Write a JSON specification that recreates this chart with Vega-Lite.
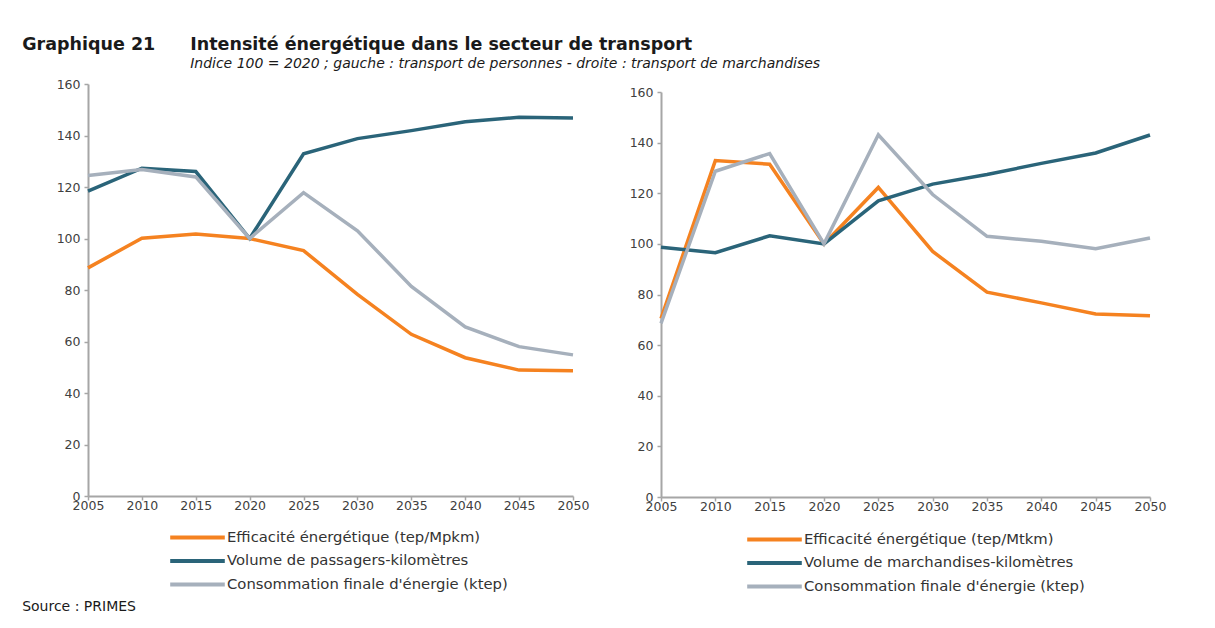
{
  "$schema": "https://vega.github.io/schema/vega-lite/v6.json",
  "background": "white",
  "padding": {"left": 22, "top": 35, "right": 10, "bottom": 5},
  "title": {
    "text": "Graphique 21\u2003\u2003Intensité énergétique dans le secteur de transport",
    "subtitle": "\u200b\u2003\u2003\u2003\u2003\u2003\u2003\u2003\u2003\u2003\u2003\u2003\u2003Indice 100 = 2020 ; gauche : transport de personnes - droite : transport de marchandises",
    "anchor": "start",
    "dx": 0,
    "font": "DejaVu Sans",
    "fontSize": 17.5,
    "fontWeight": "bold",
    "color": "#1a1a1a",
    "subtitleFont": "DejaVu Sans",
    "subtitleFontSize": 14,
    "subtitleFontStyle": "italic",
    "subtitleColor": "#1a1a1a",
    "subtitlePadding": 4,
    "offset": 7
  },
  "datasets": {
    "left": [
      {"year": 2005, "serie": "Efficacité énergétique (tep/Mpkm)", "value": 88.6},
      {"year": 2010, "serie": "Efficacité énergétique (tep/Mpkm)", "value": 100.1},
      {"year": 2015, "serie": "Efficacité énergétique (tep/Mpkm)", "value": 101.7},
      {"year": 2020, "serie": "Efficacité énergétique (tep/Mpkm)", "value": 100},
      {"year": 2025, "serie": "Efficacité énergétique (tep/Mpkm)", "value": 95.3},
      {"year": 2030, "serie": "Efficacité énergétique (tep/Mpkm)", "value": 78.3},
      {"year": 2035, "serie": "Efficacité énergétique (tep/Mpkm)", "value": 62.8},
      {"year": 2040, "serie": "Efficacité énergétique (tep/Mpkm)", "value": 53.7},
      {"year": 2045, "serie": "Efficacité énergétique (tep/Mpkm)", "value": 48.9},
      {"year": 2050, "serie": "Efficacité énergétique (tep/Mpkm)", "value": 48.6},
      {"year": 2005, "serie": "Volume de passagers-kilomètres", "value": 118.4},
      {"year": 2010, "serie": "Volume de passagers-kilomètres", "value": 127.3},
      {"year": 2015, "serie": "Volume de passagers-kilomètres", "value": 126.0},
      {"year": 2020, "serie": "Volume de passagers-kilomètres", "value": 100},
      {"year": 2025, "serie": "Volume de passagers-kilomètres", "value": 132.9},
      {"year": 2030, "serie": "Volume de passagers-kilomètres", "value": 138.8},
      {"year": 2035, "serie": "Volume de passagers-kilomètres", "value": 141.9},
      {"year": 2040, "serie": "Volume de passagers-kilomètres", "value": 145.3},
      {"year": 2045, "serie": "Volume de passagers-kilomètres", "value": 147.1},
      {"year": 2050, "serie": "Volume de passagers-kilomètres", "value": 146.8},
      {"year": 2005, "serie": "Consommation finale d'énergie (ktep)", "value": 124.5},
      {"year": 2010, "serie": "Consommation finale d'énergie (ktep)", "value": 126.8},
      {"year": 2015, "serie": "Consommation finale d'énergie (ktep)", "value": 123.9},
      {"year": 2020, "serie": "Consommation finale d'énergie (ktep)", "value": 100},
      {"year": 2025, "serie": "Consommation finale d'énergie (ktep)", "value": 117.8},
      {"year": 2030, "serie": "Consommation finale d'énergie (ktep)", "value": 103.0},
      {"year": 2035, "serie": "Consommation finale d'énergie (ktep)", "value": 81.4},
      {"year": 2040, "serie": "Consommation finale d'énergie (ktep)", "value": 65.7},
      {"year": 2045, "serie": "Consommation finale d'énergie (ktep)", "value": 58.0},
      {"year": 2050, "serie": "Consommation finale d'énergie (ktep)", "value": 54.8}
    ],
    "right": [
      {"year": 2005, "serie": "Efficacité énergétique (tep/Mtkm)", "value": 70.5},
      {"year": 2010, "serie": "Efficacité énergétique (tep/Mtkm)", "value": 132.9},
      {"year": 2015, "serie": "Efficacité énergétique (tep/Mtkm)", "value": 131.5},
      {"year": 2020, "serie": "Efficacité énergétique (tep/Mtkm)", "value": 100},
      {"year": 2025, "serie": "Efficacité énergétique (tep/Mtkm)", "value": 122.3},
      {"year": 2030, "serie": "Efficacité énergétique (tep/Mtkm)", "value": 97.0},
      {"year": 2035, "serie": "Efficacité énergétique (tep/Mtkm)", "value": 80.9},
      {"year": 2040, "serie": "Efficacité énergétique (tep/Mtkm)", "value": 76.7},
      {"year": 2045, "serie": "Efficacité énergétique (tep/Mtkm)", "value": 72.3},
      {"year": 2050, "serie": "Efficacité énergétique (tep/Mtkm)", "value": 71.6},
      {"year": 2005, "serie": "Volume de marchandises-kilomètres", "value": 98.7},
      {"year": 2010, "serie": "Volume de marchandises-kilomètres", "value": 96.5},
      {"year": 2015, "serie": "Volume de marchandises-kilomètres", "value": 103.2},
      {"year": 2020, "serie": "Volume de marchandises-kilomètres", "value": 100},
      {"year": 2025, "serie": "Volume de marchandises-kilomètres", "value": 117.0},
      {"year": 2030, "serie": "Volume de marchandises-kilomètres", "value": 123.6},
      {"year": 2035, "serie": "Volume de marchandises-kilomètres", "value": 127.4},
      {"year": 2040, "serie": "Volume de marchandises-kilomètres", "value": 131.8},
      {"year": 2045, "serie": "Volume de marchandises-kilomètres", "value": 135.9},
      {"year": 2050, "serie": "Volume de marchandises-kilomètres", "value": 143.0},
      {"year": 2005, "serie": "Consommation finale d'énergie (ktep)", "value": 68.6},
      {"year": 2010, "serie": "Consommation finale d'énergie (ktep)", "value": 128.7},
      {"year": 2015, "serie": "Consommation finale d'énergie (ktep)", "value": 135.7},
      {"year": 2020, "serie": "Consommation finale d'énergie (ktep)", "value": 100},
      {"year": 2025, "serie": "Consommation finale d'énergie (ktep)", "value": 143.1},
      {"year": 2030, "serie": "Consommation finale d'énergie (ktep)", "value": 119.5},
      {"year": 2035, "serie": "Consommation finale d'énergie (ktep)", "value": 103.0},
      {"year": 2040, "serie": "Consommation finale d'énergie (ktep)", "value": 101.0},
      {"year": 2045, "serie": "Consommation finale d'énergie (ktep)", "value": 98.1},
      {"year": 2050, "serie": "Consommation finale d'énergie (ktep)", "value": 102.3}
    ]
  },
  "spacing": 40,
  "hconcat": [
    {
      "width": 485,
      "height": 412,
      "data": {"name": "left"},
      "title": {"text": "Source : PRIMES", "orient": "bottom", "anchor": "start", "dx": -34, "fontSize": 14, "fontWeight": "normal", "font": "DejaVu Sans", "color": "#1a1a1a", "offset": 7},
      "mark": {"type": "line", "strokeWidth": 3.5},
      "encoding": {
        "x": {"field": "year", "type": "quantitative", "scale": {"domain": [2005, 2050], "nice": false, "zero": false}, "axis": {"values": [2005, 2010, 2015, 2020, 2025, 2030, 2035, 2040, 2045, 2050], "format": "d", "title": null}},
        "y": {"field": "value", "type": "quantitative", "scale": {"domain": [0, 160], "nice": false}, "axis": {"values": [0, 20, 40, 60, 80, 100, 120, 140, 160], "title": null}},
        "color": {"field": "serie", "type": "nominal",
          "scale": {"domain": ["Efficacité énergétique (tep/Mpkm)", "Volume de passagers-kilomètres", "Consommation finale d'énergie (ktep)"], "range": ["#F58220", "#2A6479", "#A6B0BC"]},
          "legend": {"title": null, "orient": "none", "legendX": 101, "legendY": 445, "direction": "vertical"}}
      }
    },
    {
      "width": 489,
      "height": 413,
      "data": {"name": "right"},
      "mark": {"type": "line", "strokeWidth": 3.5},
      "encoding": {
        "x": {"field": "year", "type": "quantitative", "scale": {"domain": [2005, 2050], "nice": false, "zero": false}, "axis": {"values": [2005, 2010, 2015, 2020, 2025, 2030, 2035, 2040, 2045, 2050], "format": "d", "title": null}},
        "y": {"field": "value", "type": "quantitative", "scale": {"domain": [0, 160], "nice": false, "range": [413, 8]}, "axis": {"values": [0, 20, 40, 60, 80, 100, 120, 140, 160], "title": null}},
        "color": {"field": "serie", "type": "nominal",
          "scale": {"domain": ["Efficacité énergétique (tep/Mtkm)", "Volume de marchandises-kilomètres", "Consommation finale d'énergie (ktep)"], "range": ["#F58220", "#2A6479", "#A6B0BC"]},
          "legend": {"title": null, "orient": "none", "legendX": 105, "legendY": 447, "direction": "vertical"}}
      }
    }
  ],
  "resolve": {"scale": {"color": "independent"}},
  "config": {
    "font": "DejaVu Sans",
    "view": {"stroke": null},
    "axis": {"grid": false, "domainColor": "#A6A6A6", "domainWidth": 2, "tickColor": "#A6A6A6", "tickWidth": 1.5, "tickSize": 4, "labelColor": "#404040", "labelFontSize": 12.5, "labelFont": "DejaVu Sans"},
    "axisX": {"labelPadding": -1, "labelFlush": false},
    "axisY": {"labelPadding": 4},
    "legend": {"symbolType": "M-4.2,0H4.2", "symbolSize": 169, "symbolStrokeWidth": 4, "labelFontSize": 14.8, "labelColor": "#333333", "labelOffset": 21, "rowPadding": 6.5, "labelFont": "DejaVu Sans", "labelLimit": 400}
  }
}
